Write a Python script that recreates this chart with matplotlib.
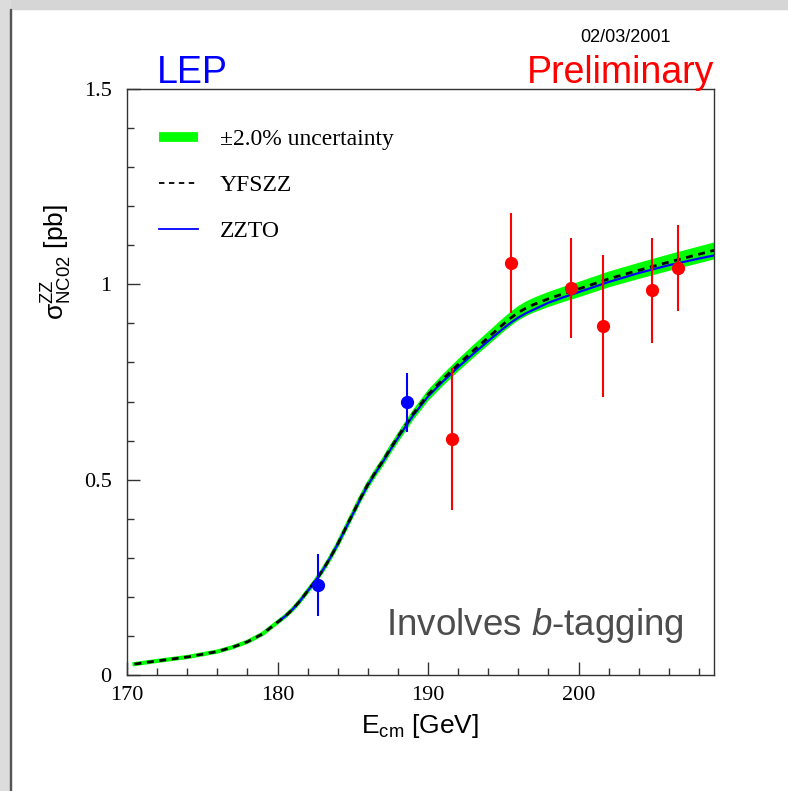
import matplotlib
matplotlib.use("Agg")
import matplotlib.pyplot as plt
from matplotlib.lines import Line2D
from matplotlib.patches import Rectangle
from matplotlib.ticker import MultipleLocator
import numpy as np

plt.rcParams['font.family'] = 'Liberation Sans'
plt.rcParams['mathtext.fontset'] = 'custom'
plt.rcParams['mathtext.rm'] = 'Liberation Sans'
plt.rcParams['mathtext.it'] = 'Liberation Sans:italic'
plt.rcParams['mathtext.sf'] = 'Liberation Sans'

# theory curves
curve_e = [170.5, 172, 174, 176, 177, 178, 179, 180, 180.5, 181, 181.5, 182, 182.5, 183,
           183.5, 184, 184.5, 185, 185.5, 186, 186.5, 187, 187.5, 188, 189, 190, 191, 192,
           193, 194, 194.5, 195, 195.5, 196, 196.5, 197, 198, 199, 200, 202, 204, 206, 208, 209]
yfszz = [0.028, 0.036, 0.046, 0.060, 0.071, 0.085, 0.105, 0.135, 0.150, 0.168, 0.190, 0.215,
         0.240, 0.268, 0.300, 0.335, 0.374, 0.413, 0.452, 0.488, 0.519, 0.548, 0.580, 0.610,
         0.668, 0.718, 0.758, 0.795, 0.830, 0.864, 0.881, 0.898, 0.914, 0.928, 0.939, 0.948,
         0.963, 0.976, 0.988, 1.014, 1.036, 1.057, 1.077, 1.087]
zzto_e = [180, 180.5, 181, 181.5, 182, 182.5, 183, 183.5, 184, 184.5, 185, 185.5, 186, 186.5,
          187, 187.5, 188, 189, 190, 191, 192, 193, 194, 194.5, 195, 195.5, 196, 196.5, 197,
          198, 199, 200, 202, 204, 206, 208, 209]
zzto = [0.135, 0.150, 0.168, 0.190, 0.215, 0.240, 0.268, 0.300, 0.335, 0.373, 0.412, 0.450,
        0.486, 0.517, 0.546, 0.577, 0.607, 0.664, 0.713, 0.752, 0.788, 0.822, 0.855, 0.871,
        0.887, 0.902, 0.915, 0.926, 0.935, 0.953, 0.967, 0.980, 1.006, 1.029, 1.049, 1.066,
        1.074]
band_frac = 0.02

# measurements
e_blue = [182.7, 188.6]
xs_blue = [0.230, 0.698]
err_blue = [0.080, 0.075]
e_red = [191.6, 195.5, 199.5, 201.6, 204.9, 206.6]
xs_red = [0.604, 1.054, 0.991, 0.893, 0.985, 1.042]
err_red = [0.181, 0.128, 0.128, 0.182, 0.134, 0.109]

fig = plt.figure(figsize=(7.88, 7.91), dpi=100)
ax = fig.add_axes([127/788, 1-675/791, 587/788, 586/791])

ce = np.array(curve_e)
cy = np.array(yfszz)
ax.fill_between(ce, cy*(1-band_frac), cy*(1+band_frac), color='#00ff00', lw=0, zorder=1)
ax.plot(ce, cy, color='#00ff00', lw=3, zorder=1)
ax.plot(zzto_e, zzto, color='#0000ff', lw=1.6, zorder=2)
ax.plot(curve_e, yfszz, color='black', lw=2, ls=(0, (2.5, 2)), zorder=3)

ax.errorbar(e_blue, xs_blue, yerr=err_blue, fmt='o', color='#0000ff', ms=8.5,
            elinewidth=1.5, capsize=0, zorder=4)
ax.errorbar(e_red, xs_red, yerr=err_red, fmt='o', color='#ff0000', ms=8.5,
            elinewidth=1.5, capsize=0, zorder=4)

ax.set_xlim(170, 209)
ax.set_ylim(0, 1.5)
ax.xaxis.set_major_locator(MultipleLocator(10))
ax.xaxis.set_minor_locator(MultipleLocator(2))
ax.yaxis.set_major_locator(MultipleLocator(0.5))
ax.yaxis.set_minor_locator(MultipleLocator(0.1))
ax.set_yticks([0, 0.5, 1, 1.5])
ax.set_yticklabels(['0', '0.5', '1', '1.5'])
ax.tick_params(which='both', direction='in', top=False, right=False, width=1, color='#333333')
ax.tick_params(which='major', length=9.4)
ax.tick_params(which='minor', length=4.7)
ax.tick_params(axis='x', pad=8)
ax.tick_params(axis='y', pad=11)
for lab in ax.get_xticklabels() + ax.get_yticklabels():
    lab.set_fontfamily('Liberation Serif')
    lab.set_fontsize(16)
for s in ax.spines.values():
    s.set_linewidth(1)
    s.set_color('#333333')

ax.set_xlabel(r'E$_{\mathregular{cm}}$ [GeV]', fontsize=19)
ax.xaxis.set_label_coords(0.5, -0.063)
ax.set_ylabel(r'$\mathregular{\sigma^{ZZ}_{NC02}}$ [pb]', fontsize=19)
ax.yaxis.set_label_coords(-0.09, 0.705)

handles = [Line2D([], [], color='#00ff00', lw=7, solid_capstyle='butt'),
           Line2D([], [], color='black', lw=1.3, ls=(0, (3, 2.5))),
           Line2D([], [], color='#0000ff', lw=1.3)]
labels = ['\u00b12.0% uncertainty', 'YFSZZ', 'ZZTO']
ax.legend(handles, labels, loc='upper left', bbox_to_anchor=(0.054, 0.933),
          frameon=False, borderpad=0, borderaxespad=0, handlelength=1.65,
          handletextpad=0.93, labelspacing=1.05,
          prop={'family': 'Liberation Serif', 'size': 17})

ax.text(0.948, 0.068, r'Involves $\mathit{b}$-tagging', transform=ax.transAxes,
        ha='right', va='baseline', fontsize=26.5, color='#4d4d4d')

fig.text(157/788, 1-83/791, 'LEP', color='#0000ff', fontsize=27, ha='left', va='baseline')
fig.text(714/788, 1-83/791, 'Preliminary', color='#ff0000', fontsize=27, ha='right', va='baseline')
fig.text(671/788, 1-41.7/791, '02/03/2001', color='black', fontsize=13, ha='right', va='baseline')

# screenshot page edges
fig.patches.append(Rectangle((0, 1-9/791), 1, 9/791, transform=fig.transFigure,
                             color='#d6d6d6', zorder=0))
fig.patches.append(Rectangle((0, 0), 10/788, 1, transform=fig.transFigure,
                             color='#dcdcdc', zorder=0))
fig.patches.append(Rectangle((10/788, 0), 1.2/788, 1-9/791, transform=fig.transFigure,
                             color='#555555', zorder=0))

fig.savefig('out.png', dpi=100)
